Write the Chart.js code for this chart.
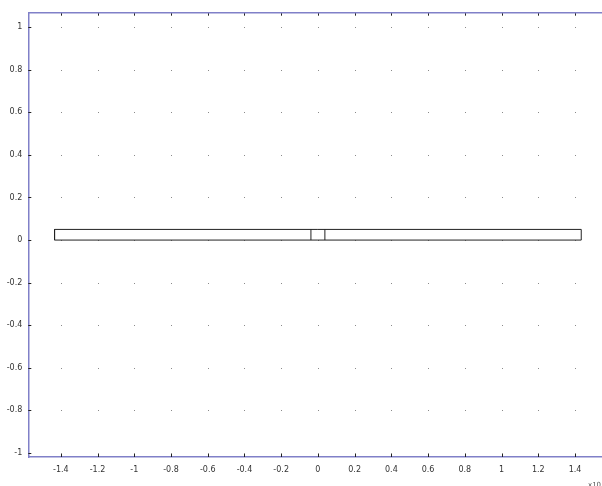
<!DOCTYPE html>
<html>
<head>
<meta charset="utf-8">
<script src="https://cdn.jsdelivr.net/npm/chart.js@4.4.1/dist/chart.umd.min.js"></script>
<style>
  html, body { margin: 0; padding: 0; background: #fff; }
  #wrap { width: 602px; height: 486px; position: relative; }
</style>
</head>
<body>
<div id="wrap"><canvas id="plot"></canvas></div>
<script>
// tick positions
const xTicks = [-1.4, -1.2, -1, -0.8, -0.6, -0.4, -0.2, 0, 0.2, 0.4, 0.6, 0.8, 1, 1.2, 1.4];
const yTicks = [-1, -0.8, -0.6, -0.4, -0.2, 0, 0.2, 0.4, 0.6, 0.8, 1];

// geometry outline (x, y)
const outlineX = [-1.434, 1.434, 1.434, -1.434, -1.434];
const outlineY = [0, 0, 0.05, 0.05, 0];
const splitX = [-0.038, 0.038];
const splitY = [0, 0.05];

const axisColor = '#8080c8';
const fmt = v => String(+v.toFixed(1));

const outline = outlineX.map((x, i) => ({ x, y: outlineY[i] }));
const splits = [];
splitX.forEach((x, i) => {
  if (i > 0) splits.push({ x: NaN, y: NaN });
  splitY.forEach(y => splits.push({ x, y }));
});

// dotted grid at tick crossings + inward tick marks
const gridDots = {
  id: 'gridDots',
  beforeDatasetsDraw(chart) {
    const { ctx, chartArea: a, scales: { x, y } } = chart;
    ctx.save();
    ctx.fillStyle = '#8a8a8a';
    xTicks.forEach(tx => {
      const px = Math.round(x.getPixelForValue(tx));
      yTicks.forEach(ty => {
        const py = Math.round(y.getPixelForValue(ty));
        ctx.fillRect(px, py, 1, 1);
      });
    });
    ctx.strokeStyle = '#222';
    ctx.lineWidth = 1;
    ctx.beginPath();
    xTicks.forEach(tx => {
      const px = Math.round(x.getPixelForValue(tx)) + 0.5;
      ctx.moveTo(px, a.top); ctx.lineTo(px, a.top + 3);
      ctx.moveTo(px, a.bottom); ctx.lineTo(px, a.bottom - 3);
    });
    yTicks.forEach(ty => {
      const py = Math.round(y.getPixelForValue(ty)) + 0.5;
      ctx.moveTo(a.left, py); ctx.lineTo(a.left + 3, py);
    });
    ctx.stroke();
    // top frame line
    ctx.strokeStyle = axisColor;
    ctx.lineWidth = 1.5;
    ctx.beginPath();
    ctx.moveTo(a.left, a.top);
    ctx.lineTo(a.right, a.top);
    ctx.stroke();
    // exponent marker, partly off the canvas
    ctx.fillStyle = '#555';
    ctx.font = '7px "DejaVu Sans"';
    ctx.textAlign = 'left';
    ctx.textBaseline = 'alphabetic';
    ctx.fillText('x10', 588, 487);
    ctx.restore();
  }
};

new Chart(document.getElementById('plot'), {
  type: 'scatter',
  data: {
    datasets: [
      {
        data: outline,
        showLine: true,
        borderColor: '#222',
        borderWidth: 1,
        pointRadius: 0,
        fill: false
      },
      {
        data: splits,
        showLine: true,
        spanGaps: false,
        borderColor: '#222',
        borderWidth: 1,
        pointRadius: 0,
        fill: false
      }
    ]
  },
  options: {
    responsive: true,
    maintainAspectRatio: false,
    animation: false,
    layout: { padding: { top: 12.7, right: 0, left: 0, bottom: 0 } },
    plugins: { legend: { display: false }, tooltip: { enabled: false } },
    scales: {
      x: {
        type: 'linear',
        min: -1.577,
        max: 1.547,
        afterBuildTicks: s => { s.ticks = xTicks.map(value => ({ value })); },
        afterFit: s => { s.height = 29; },
        grid: { display: false, drawTicks: false },
        border: { display: true, color: axisColor, width: 1.5 },
        ticks: {
          color: '#333',
          font: { family: 'DejaVu Sans', size: 8 },
          padding: 8,
          maxRotation: 0,
          autoSkip: false,
          callback: fmt
        }
      },
      y: {
        type: 'linear',
        min: -1.019,
        max: 1.068,
        afterBuildTicks: s => { s.ticks = yTicks.map(value => ({ value })); },
        afterFit: s => { s.width = 28.3; },
        grid: { display: false, drawTicks: false },
        border: { display: true, color: axisColor, width: 1.5 },
        ticks: {
          color: '#333',
          font: { family: 'DejaVu Sans', size: 8 },
          padding: 6,
          autoSkip: false,
          callback: fmt
        }
      }
    }
  },
  plugins: [gridDots]
});
</script>
</body>
</html>
